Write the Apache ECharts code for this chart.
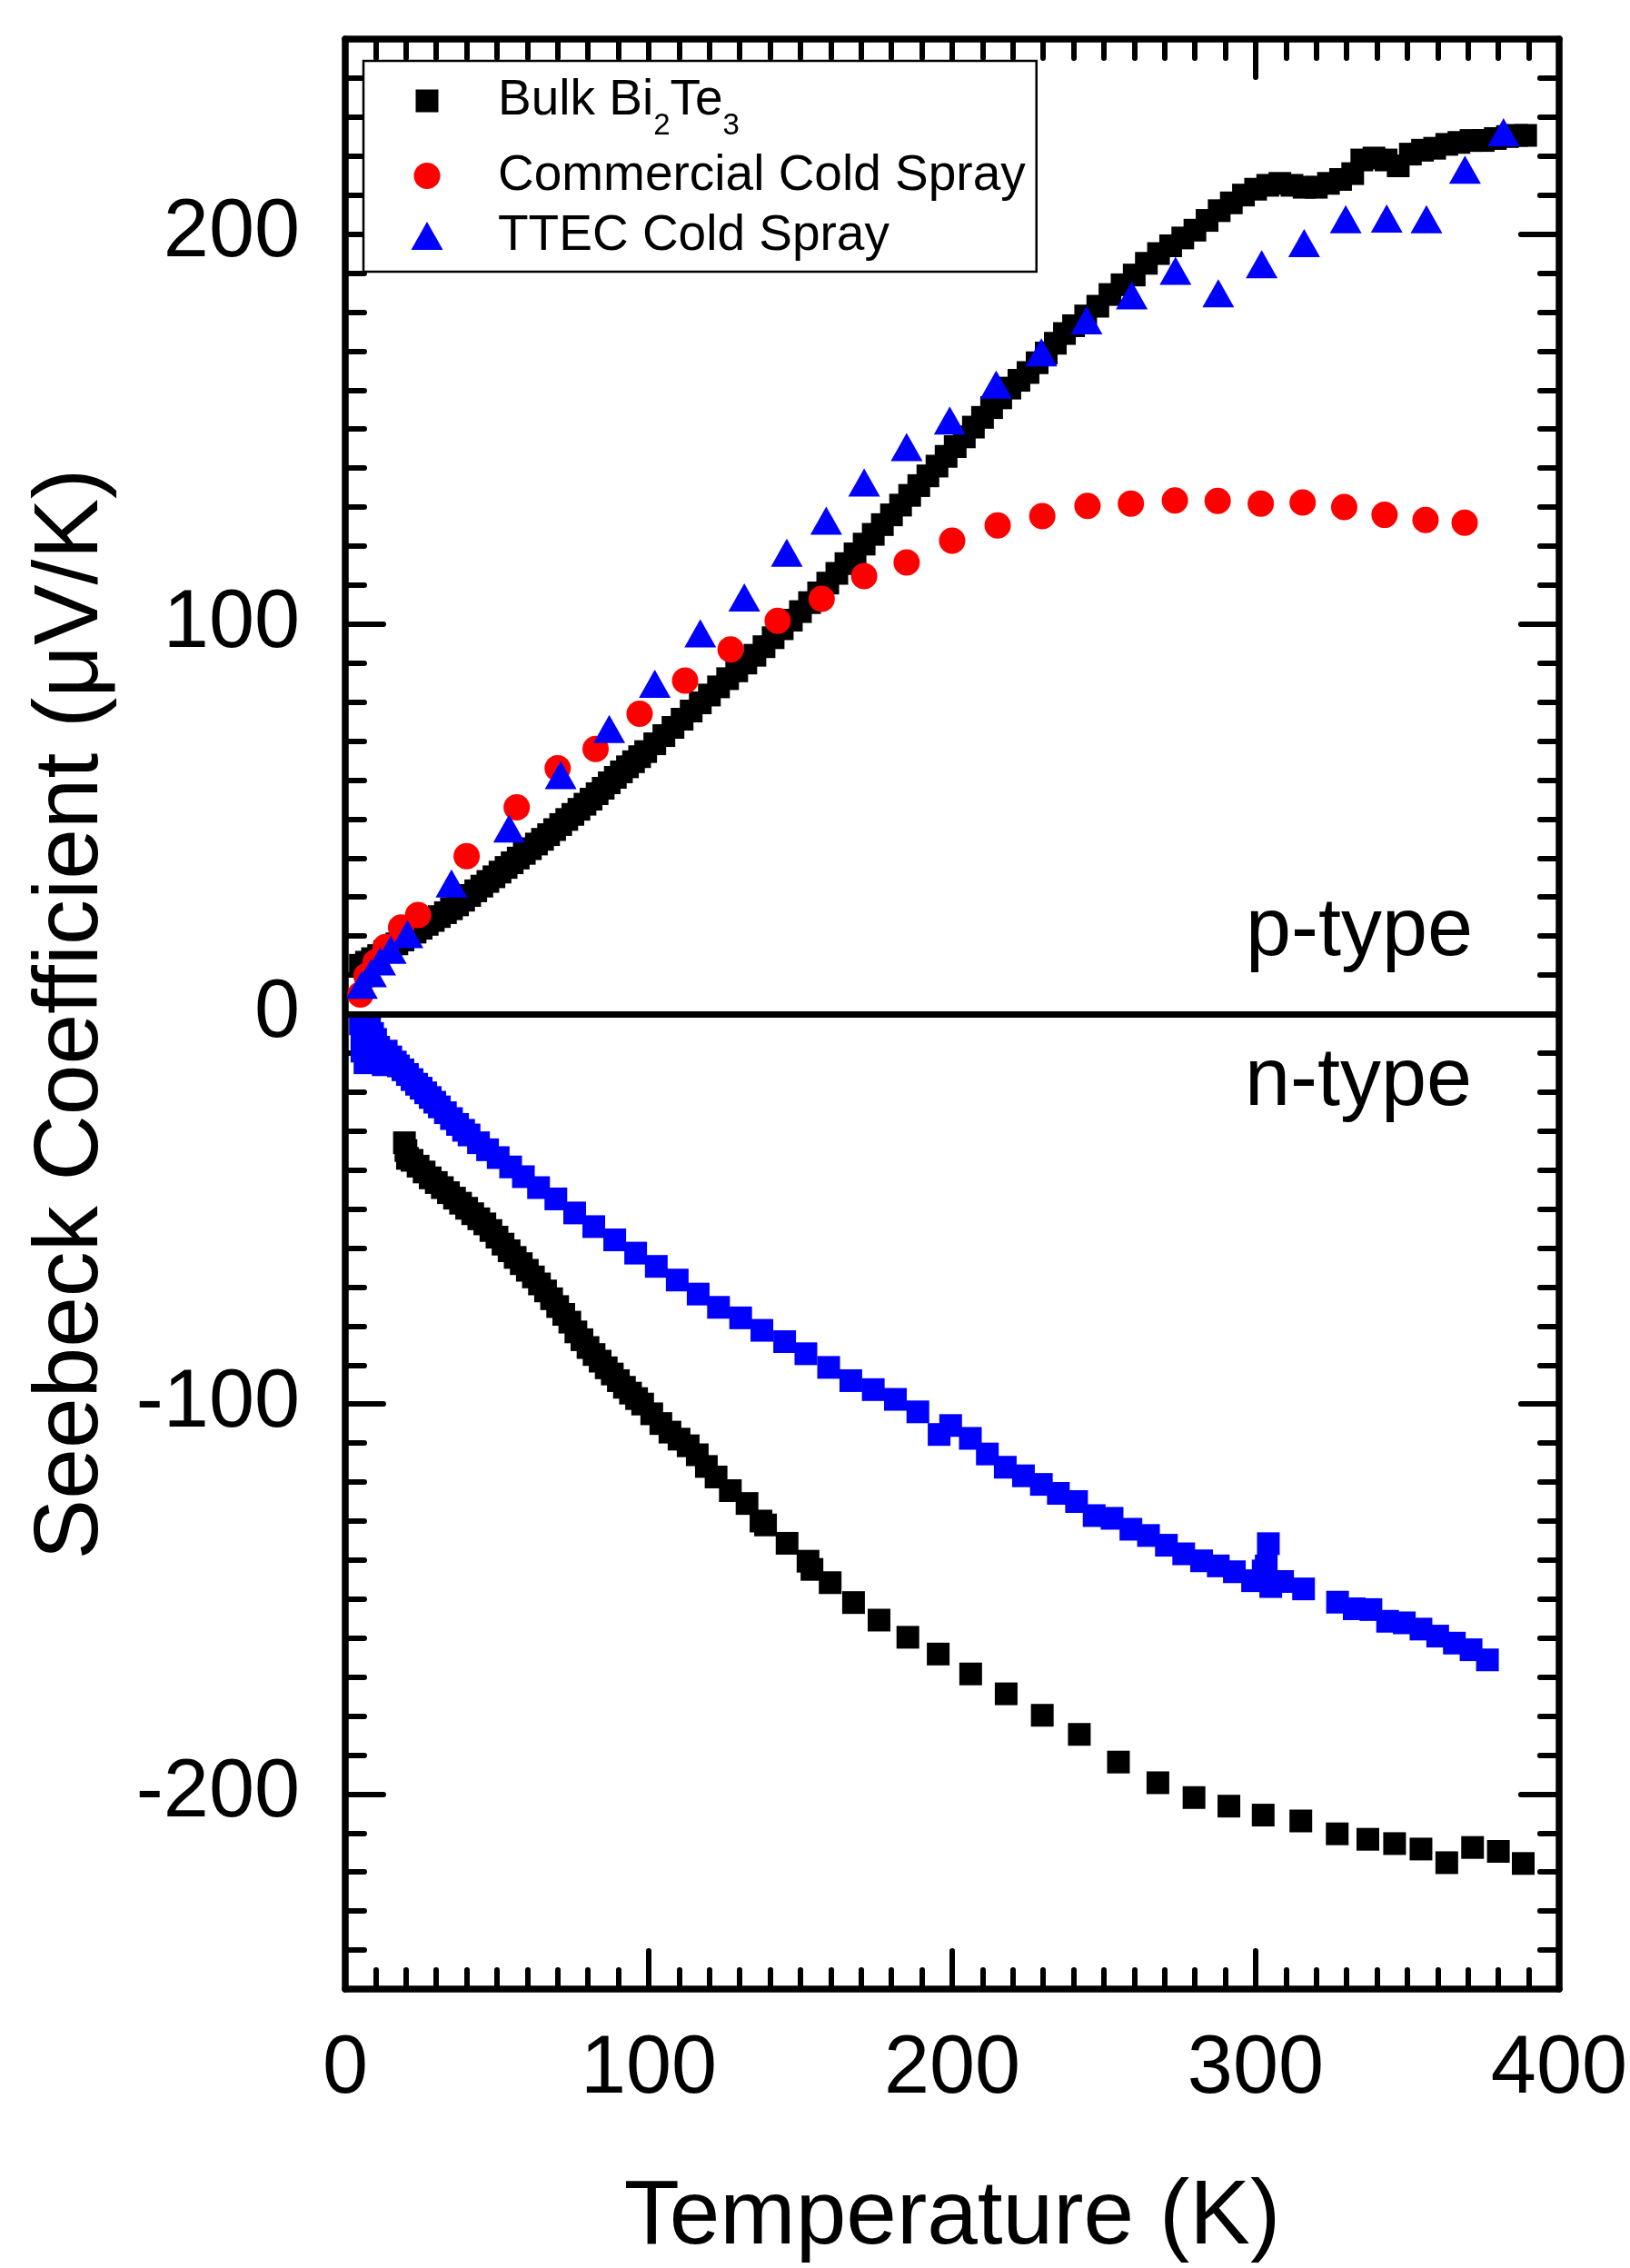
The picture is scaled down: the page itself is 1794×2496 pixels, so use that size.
<!DOCTYPE html>
<html>
<head>
<meta charset="utf-8">
<script src="https://cdn.jsdelivr.net/npm/echarts@6/dist/echarts.min.js"></script>
<style>
html,body{margin:0;padding:0;background:#fff;}
#c{width:1794px;height:2496px;}
</style>
</head>
<body>
<div id="c"></div>
<script>
// ---------- data: [Temperature (K), Seebeck coefficient (uV/K)] ----------
const bulkP = [[5,12.5],[7,13.3],[9,14.2],[11,15],[13,16],[15,17],[17,18],[19,19],[21,20],[23,21],[25,22],[27,23],[29,24],[31,25],[33,26],[35,27],[37,28],[39,29.2],[41,30.4],[43,31.6],[45,32.8],[47,34],[49,35.2],[51,36.4],[53,37.6],[55,38.8],[57,40],[59,41.2],[61,42.4],[63,43.6],[65,44.8],[67,46],[69,47.3],[71,48.6],[73,49.9],[75,51.2],[77,52.5],[79,53.8],[81,55.1],[83,56.5],[85,57.9],[87,59.3],[89,60.7],[91,62.1],[93,63.4],[95,64.7],[97,66],[99,67.3],[102,69.3],[105,71.4],[108,73.5],[111,75.6],[114,77.7],[117,79.8],[120,81.8],[123,83.9],[126,86],[129,88],[132,90],[135,92],[138,94.2],[141,96.5],[144,98.8],[147,101],[150,103.2],[153,105.5],[156,108],[159,110.5],[162,113],[165,115.5],[168,118],[171,120.5],[174,123],[177,125.5],[180,128],[183,130.5],[186,133],[189,135.5],[192,138],[195,140.5],[198,143],[201,145.5],[204,148],[207,150.5],[210,153],[213,155.5],[216,158],[219,160.5],[222,162.5],[225,164.5],[228,167],[231,169.5],[234,172],[237,174.5],[240,176.5],[244,179],[248,181.5],[252,184.5],[256,187],[260,189.5],[264,192.5],[268,195],[272,197],[276,199],[280,201],[284,203.5],[288,206],[292,208],[296,210],[300,211.5],[304,212.5],[308,213],[312,212.5],[316,212],[320,212],[324,213],[328,214],[332,215.5],[335,219],[339,219.5],[343,219],[347,217.5],[351,220.5],[355,221.5],[359,222],[363,223],[367,223.5],[371,224],[375,224],[379,224.5],[383,225],[386,225.3],[389,225.3]];

const bulkN = [[19.5,-33],[20,-35],[20.5,-37],[22,-37.5],[24,-39],[26,-40.5],[28,-42],[30,-43.2],[32,-44.5],[34,-45.8],[36,-47.2],[38,-48.5],[40,-49.8],[42,-51.2],[44,-52.5],[46,-53.8],[48,-55.5],[50,-57.2],[52,-59],[54,-60.7],[56,-62.4],[58,-64],[60,-65.7],[62,-67.4],[64,-69.2],[66,-71],[68,-73],[70,-75],[72,-77],[74,-79],[76,-81.5],[78,-83.5],[80,-85.5],[82,-87.3],[84,-89],[86,-90.7],[88,-92.3],[90,-94],[92,-95.7],[94,-97.2],[96,-98.6],[98,-100],[101,-102.5],[104,-105],[107,-107.2],[110,-109],[113,-110.7],[116,-113],[119,-116],[122.2,-118.7],[126.9,-122.2],[132.4,-125.5],[137,-130],[138.5,-131],[145.6,-135.7],[152.5,-140.3],[153.8,-142.4],[159.8,-145.8],[167.5,-150.9],[175.9,-155.4],[185.4,-159.8],[195.4,-164.1],[206.1,-169.2],[217.8,-174.3],[229.7,-179.8],[241.9,-184.7],[254.8,-191.8],[267.8,-197.1],[279.7,-200.9],[291.2,-203.1],[302.5,-205.4],[314.9,-206.9],[326.9,-210.2],[337,-211.6],[345.8,-212.7],[354.5,-214.1],[363,-217.6],[371.5,-213.7],[380,-214.7],[388.2,-217.8]];

const commercialP = [[5,5],[7,9.8],[10,13.3],[13.3,17.2],[18.4,22.2],[24,25.4],[40,40.5],[56.5,53],[70,63],[82.5,68],[97,77],[112,85.5],[127,93.5],[142.5,100.8],[157,106.5],[171,112.3],[185,115.8],[200,121.4],[215,125.3],[229.7,127.7],[244.6,130.3],[258.9,130.9],[273.4,131.7],[287.5,131.6],[301.7,130.9],[315.5,131.2],[329.2,130],[342.5,128],[356,126.7],[368.9,126]];

const ttecP = [[5.5,7.5],[8.5,10.5],[11.5,13.5],[15,16.5],[20.5,20.5],[35,33.5],[54,47.6],[71,61.3],[87,73.1],[102,84.7],[117,97.6],[131.5,106.8],[145.5,118.3],[158.5,126.5],[171,136.3],[185,145.4],[199.2,152.2],[214.5,161.4],[229.4,169.7],[244.3,177.9],[259.2,184.3],[273.6,190.6],[287.7,184.8],[302,192.3],[316,197.7],[329.7,203.8],[343.2,204],[356.3,203.8],[369,216.5],[381.7,226.1]];

const ttecN = [[5,-2.5],[5.5,-6],[5.5,-9.5],[6.5,-12.5],[8,-3.5],[9,-5],[10,-6.5],[11,-8.5],[12,-10.5],[12.5,-13],[13.5,-9.5],[15,-11],[16.5,-12.3],[17.5,-13.3],[19,-14.3],[20.5,-15.5],[22,-16.8],[23.5,-18],[25,-19],[26.5,-20.2],[28,-21.4],[29.5,-22.6],[31,-23.8],[33,-25.3],[35,-26.8],[37,-28.3],[39,-29.8],[40.8,-31],[43.9,-33],[46.9,-34.8],[50.4,-36.8],[54.5,-39.2],[58.7,-41.7],[63.7,-44.5],[69.4,-47.4],[75.6,-51],[81.9,-54.5],[88.8,-57.9],[95.7,-61.3],[102.5,-64.7],[109.4,-68.2],[116.3,-71.8],[123,-75.2],[130.3,-77.9],[137.3,-81.1],[144.8,-84],[151.8,-87.1],[159.3,-90.6],[166.6,-94],[174,-96.3],[181.3,-98.8],[188.7,-102],[195.7,-107.8],[199.5,-105.5],[206,-108.8],[211.6,-112.8],[217.5,-116.2],[223.5,-118.4],[229.4,-120.6],[235,-122.9],[241,-125],[246.8,-128.6],[252.7,-129.3],[258.9,-132.1],[264.7,-133.7],[270.6,-136.2],[276.3,-138.4],[282.2,-140.2],[287.7,-141.5],[293,-143],[299,-145.3],[302.5,-142.8],[304.2,-135.8],[303.5,-141.5],[305,-146.8],[308.9,-145.5],[315.8,-147.4],[327,-150.8],[332.5,-152.5],[338,-152.7],[343.5,-155.7],[349,-156.1],[354.5,-157.7],[360,-159.5],[365.5,-161.3],[371,-163],[376.4,-165.6]];

const xRange = [0, 400];
const yRange = [-250, 250];
const yMajorTicks = [-200, -100, 0, 100, 200];
const seriesNames = ['Bulk Bi2Te3', 'Commercial Cold Spray', 'TTEC Cold Spray'];

// ---------- styling ----------
const FONT = 'Liberation Sans';
const axisLineStyle = {color: '#000', width: 7.5};
const tickStyle = {color: '#000', width: 6, cap: 'round'};

function xAx(pos, labels) {
  const a = {
    type: 'value', position: pos, min: xRange[0], max: xRange[1], interval: 100,
    axisLine: {show: true, onZero: false, lineStyle: axisLineStyle},
    axisTick: {show: true, inside: true, length: 42, lineStyle: tickStyle},
    minorTick: {show: true, splitNumber: 10, length: 21, lineStyle: tickStyle},
    splitLine: {show: false}, minorSplitLine: {show: false},
    axisLabel: {show: labels, margin: 44, fontSize: 90, fontFamily: FONT, color: '#000'}
  };
  if (labels) {
    a.name = 'Temperature (K)';
    a.nameLocation = 'middle';
    a.nameGap = 202;
    a.nameTextStyle = {fontSize: 100, fontFamily: FONT, color: '#000'};
  }
  return a;
}
function yMinor(pos) {
  return {
    type: 'value', position: pos, min: yRange[0], max: yRange[1], interval: 10,
    axisLine: {show: true, onZero: false, lineStyle: axisLineStyle},
    axisTick: {show: true, inside: true, length: 21, lineStyle: tickStyle},
    axisLabel: {show: false}, splitLine: {show: false}
  };
}
function yMajor(pos, labels) {
  const a = {
    type: 'value', position: pos, min: yRange[0], max: yRange[1],
    axisLine: {show: false, onZero: false},
    axisTick: {show: true, inside: true, length: 42, lineStyle: tickStyle, customValues: yMajorTicks},
    axisLabel: {show: labels, customValues: yMajorTicks, margin: 50, fontSize: 90, fontFamily: FONT, color: '#000'},
    splitLine: {show: false}
  };
  if (labels) {
    a.name = 'Seebeck Coefficient (μV/K)';
    a.nameLocation = 'middle';
    a.nameGap = 251;
    a.nameTextStyle = {fontSize: 100, fontFamily: FONT, color: '#000'};
  }
  return a;
}

const sqIcon = 'path://M0,0M36,32M5.5,3.5L30.5,3.5L30.5,28.5L5.5,28.5Z';
const circIcon = 'path://M0,0M36,32M3.5,16A14.5,14.5,0,1,1,32.5,16A14.5,14.5,0,1,1,3.5,16Z';
const triIcon = 'path://M0,0M36,32M18,0.5L35.5,31.5L0.5,31.5Z';

const chart = echarts.init(document.getElementById('c'), null, {renderer: 'canvas', width: 1794, height: 2496});
chart.setOption({
  animation: false,
  backgroundColor: '#fff',
  textStyle: {fontFamily: FONT},
  grid: {left: 380, top: 43, width: 1338, height: 2159, containLabel: false},
  xAxis: [xAx('bottom', true), xAx('top', false)],
  yAxis: [yMinor('left'), yMajor('left', true), yMinor('right'), yMajor('right', false)],
  legend: {
    left: 400, top: 67, orient: 'vertical',
    padding: [0, 12, 12, 52],
    itemGap: 11, itemWidth: 36, itemHeight: 32,
    symbolKeepAspect: true,
    selectedMode: false,
    backgroundColor: '#fff', borderColor: '#000', borderWidth: 2.5, borderRadius: 0,
    data: [
      {name: seriesNames[0], icon: sqIcon},
      {name: seriesNames[1], icon: circIcon},
      {name: seriesNames[2], icon: triIcon}
    ],
    formatter: function (name) {
      if (name === seriesNames[0]) return '{m|Bulk Bi}{sub|2}{m|Te}{sub|3}';
      return name;
    },
    textStyle: {
      fontSize: 55, fontFamily: FONT, color: '#000',
      padding: [0, 0, 0, 55],
      rich: {
        m: {fontSize: 55, fontFamily: FONT, color: '#000', lineHeight: 62},
        sub: {fontSize: 33, fontFamily: FONT, color: '#000', lineHeight: 62, padding: [55, 0, 0, 0]}
      }
    }
  },
  graphic: [
    {type: 'text', x: 1371, y: 1026, style: {text: 'p-type', fontSize: 90, fontFamily: FONT, fill: '#000', verticalAlign: 'middle', align: 'left'}},
    {type: 'text', x: 1370, y: 1191, style: {text: 'n-type', fontSize: 90, fontFamily: FONT, fill: '#000', verticalAlign: 'middle', align: 'left'}}
  ],
  series: [
    {
      type: 'scatter', name: seriesNames[0], data: bulkP, xAxisIndex: 0, yAxisIndex: 0,
      symbol: 'rect', symbolSize: 25, itemStyle: {color: '#000', opacity: 1}, silent: true,
      markLine: {
        silent: true, symbol: ['none', 'none'], label: {show: false},
        lineStyle: {color: '#000', width: 7, type: 'solid', opacity: 1}, emphasis: {disabled: true},
        data: [{yAxis: 0}]
      }
    },
    {
      type: 'scatter', name: 'Bulk Bi2Te3 (n-type)', data: bulkN, xAxisIndex: 0, yAxisIndex: 0,
      symbol: 'rect', symbolSize: 25, itemStyle: {color: '#000', opacity: 1}, silent: true
    },
    {
      type: 'scatter', name: seriesNames[1], data: commercialP, xAxisIndex: 0, yAxisIndex: 0,
      symbol: 'circle', symbolSize: 29, itemStyle: {color: '#ff0000', opacity: 1}, silent: true
    },
    {
      type: 'scatter', name: seriesNames[2], data: ttecP, xAxisIndex: 0, yAxisIndex: 0,
      symbol: 'triangle', symbolSize: [35, 31], itemStyle: {color: '#0000ff', opacity: 1}, silent: true
    },
    {
      type: 'scatter', name: 'TTEC Cold Spray (n-type)', data: ttecN, xAxisIndex: 0, yAxisIndex: 0,
      symbol: 'rect', symbolSize: 25, itemStyle: {color: '#0000ff', opacity: 1}, silent: true
    }
  ]
});
</script>
</body>
</html>
